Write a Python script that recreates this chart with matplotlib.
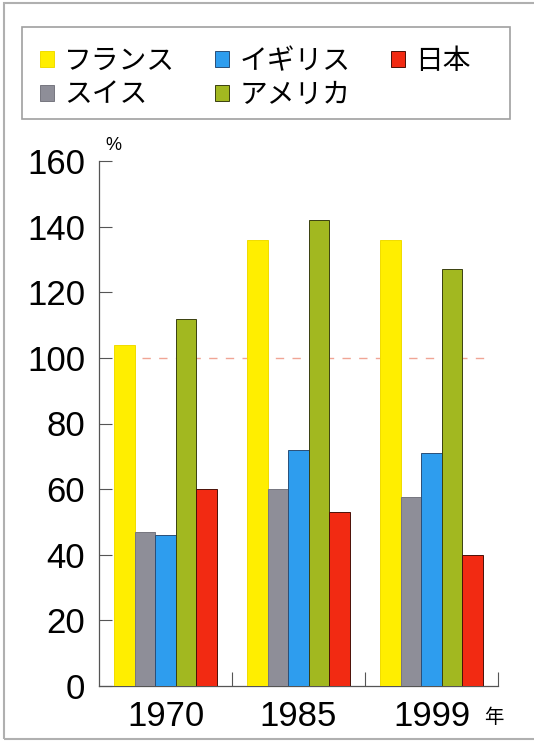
import matplotlib
matplotlib.use('Agg')
import matplotlib.pyplot as plt
from matplotlib.patches import Rectangle
import numpy as np

plt.rcParams['font.family'] = ['Liberation Sans', 'Noto Sans CJK JP']

# data
years = ['1970', '1985', '1999']
countries = ['フランス', 'スイス', 'イギリス', 'アメリカ', '日本']
france = [104, 136, 136]
swiss = [47, 60, 57.5]
uk = [46, 72, 71]
usa = [112, 142, 127]
japan = [60, 53, 40]
series = [france, swiss, uk, usa, japan]

colors = ['#FFEE00', '#8E8E98', '#2E9DEE', '#A2B820', '#F22A12']
edges = ['#F0DC00', '#76767F', '#2A4F78', '#3A4010', '#4A1008']

fig = plt.figure(figsize=(5.34, 7.42), dpi=100)
ax = fig.add_axes([99 / 534, 1 - 686 / 742, 399 / 534, 525 / 742])

x = np.arange(len(years))
w = 0.154
handles = []
for i, vals in enumerate(series):
    b = ax.bar(x + (i - 2) * w, vals, w, color=colors[i], edgecolor=edges[i],
               linewidth=0.7, zorder=3, label=countries[i])
    handles.append(b)

# reference line at 100 %
ax.axhline(100, xmin=0.108, xmax=0.985, color='#F0A595', lw=1,
           dashes=(6, 6), zorder=1)

ax.set_xlim(-0.5, 2.5)
ax.set_ylim(0, 160)
ax.set_yticks(np.arange(0, 161, 20))
ax.tick_params(axis='y', direction='in', length=9, width=0.8, color='#555555',
               labelsize=25, pad=10)

# separator ticks between the year groups, labels at the centres
ax.set_xticks([0.5, 1.5, 2.5])
ax.set_xticklabels([])
ax.set_xticks(x, minor=True)
ax.set_xticklabels(years, minor=True)
ax.tick_params(axis='x', which='major', direction='in', length=10, width=0.8,
               color='#555555')
ax.tick_params(axis='x', which='minor', length=0, labelsize=25, pad=10)

for s in ['top', 'right']:
    ax.spines[s].set_visible(False)
for s in ['left', 'bottom']:
    ax.spines[s].set_color('#555555')
    ax.spines[s].set_linewidth(0.9)

fig.text(113 / 534, 1 - 145 / 742, '%', fontsize=13, ha='center', va='center')
fig.text(494 / 534, 1 - 718 / 742, '年', fontsize=14, ha='center', va='center')

# legend box
fig.patches.append(Rectangle((22 / 534, 1 - 119 / 742), 488 / 534, 92 / 742,
                             transform=fig.transFigure, fill=False,
                             edgecolor='#A0A0A0', lw=1.2))
fig.legend(handles=handles, loc='upper left',
           bbox_to_anchor=(40 / 534, 1 - 49 / 742), ncol=3, frameon=False,
           fontsize=20, handlelength=0.5, handleheight=0.5,
           handletextpad=0.37, columnspacing=1.45, labelspacing=0.27,
           borderpad=0, borderaxespad=0)

# outer frame
fig.patches.append(Rectangle((4 / 534, 3 / 742), 1.2, 736 / 742,
                             transform=fig.transFigure, fill=False,
                             edgecolor='#B0B0B0', lw=1.5))

fig.savefig('out.png', dpi=100)
